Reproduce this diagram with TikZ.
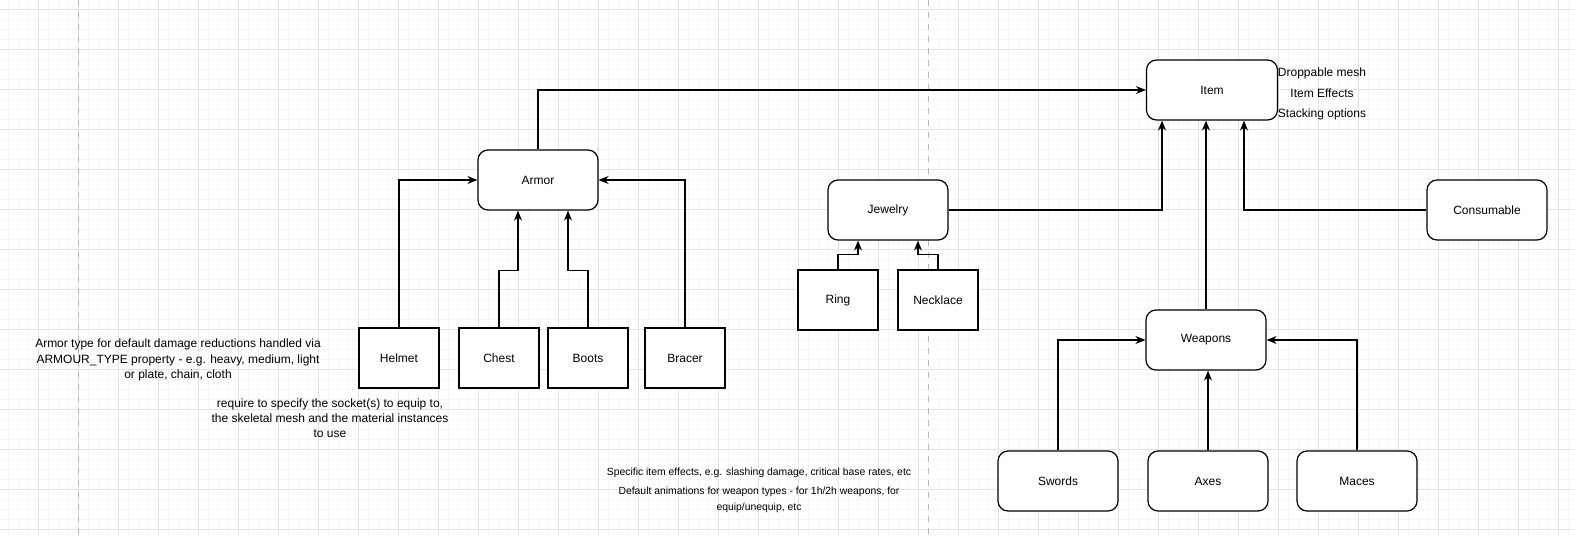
\documentclass[tikz,border=0pt]{standalone}
\usepackage{fontspec}
\setmainfont{Liberation Sans}
\usetikzlibrary{arrows.meta}
\tikzset{
  box/.style={draw, line width=.6pt, fill=white, minimum width=60pt, minimum height=30pt, inner sep=0pt, font=\fontsize{6}{7.5}\selectfont},
  rbox/.style={box, rounded corners=5pt},
  sbox/.style={box, minimum width=40pt},
  note/.style={align=center, inner sep=0pt, font=\fontsize{6}{7.6}\selectfont},
  arr/.style={-{Stealth[length=5pt,width=4pt]}, line width=.6pt},
}
\begin{document}
\begin{tikzpicture}[x=0.5pt, y=-0.5pt]
	\useasboundingbox (0,0) rectangle (1575,536);
	\fill[white] (0,0) rectangle (1575,536);
	% grid
	\foreach \gx in {8,18,...,1575} \draw[gray!7, line width=.4pt] (\gx,0) -- (\gx,536);
	\foreach \gy in {-0.5,9.5,...,536} \draw[gray!7, line width=.4pt] (0,\gy) -- (1575,\gy);
	\foreach \gx in {38,78,...,1575} \draw[gray!22, line width=.5pt] (\gx,0) -- (\gx,536);
	\foreach \gy in {9.5,49.5,...,536} \draw[gray!22, line width=.5pt] (0,\gy) -- (1575,\gy);
	\draw[gray!55, dashed, line width=.5pt] (78,0) -- (78,536);
	\draw[gray!55, dashed, line width=.5pt] (928.5,0) -- (928.5,536);
	% nodes
	\node[rbox, minimum width=65.5pt] (item) at (1212,90) {Item};
	\node[rbox] (armor) at (538,180) {Armor};
	\node[rbox] (jewelry) at (888,210) {Jewelry};
	\node[rbox] (consumable) at (1487,210) {Consumable};
	\node[rbox] (weapons) at (1206,340) {Weapons};
	\node[rbox] (swords) at (1058,481) {Swords};
	\node[rbox] (axes) at (1208,481) {Axes};
	\node[rbox] (maces) at (1357,481) {Maces};
	\node[sbox] (ring) at (838,300) {Ring};
	\node[sbox] (necklace) at (938,300) {Necklace};
	\node[sbox] (helmet) at (399,358) {Helmet};
	\node[sbox] (chest) at (499,358) {Chest};
	\node[sbox] (boots) at (588,358) {Boots};
	\node[sbox] (bracer) at (685,358) {Bracer};
	% notes
	\node[note] (itemNote) at (1322,94) {Droppable mesh\\[2.5pt]Item Effects\\[2.5pt]Stacking options};
	\node[note] (armorNote) at (178,360) {Armor type for default damage reductions handled via\\ARMOUR\_TYPE property - e.g. heavy, medium, light\\or plate, chain, cloth};
	\node[note] (socketNote) at (330,418) {require to specify the socket(s) to equip to,\\the skeletal mesh and the material instances\\to use};
	\node[note, font=\fontsize{5.2}{8}\selectfont] (weaponNote) at (759,490) {Specific item effects, e.g. slashing damage, critical base rates, etc\\[1.5pt]Default animations for weapon types - for 1h/2h weapons, for\\equip/unequip, etc};
	% connectors
	\draw[arr] (armor.north) |- (item.west);
	\draw[arr] (helmet.north) |- (armor.west);
	\draw[arr] (bracer.north) |- (armor.east);
	\draw[arr] (chest.north) -- ++(0,-57) -| ([xshift=-10pt]armor.south);
	\draw[arr] (boots.north) -- ++(0,-57) -| ([xshift=15pt]armor.south);
	\draw[arr] (jewelry.east) -| ([xshift=-25pt]item.south);
	\draw[arr] (consumable.west) -| ([xshift=16pt]item.south);
	\draw[arr] (weapons.north) -- (weapons.north |- item.south);
	\draw[arr] (ring.north) -- ++(0,-15) -| ([xshift=-15pt]jewelry.south);
	\draw[arr] (necklace.north) -- ++(0,-15) -| ([xshift=15pt]jewelry.south);
	\draw[arr] (swords.north) |- (weapons.west);
	\draw[arr] (axes.north) -- (axes.north |- weapons.south);
	\draw[arr] (maces.north) |- (weapons.east);
\end{tikzpicture}
\end{document}
